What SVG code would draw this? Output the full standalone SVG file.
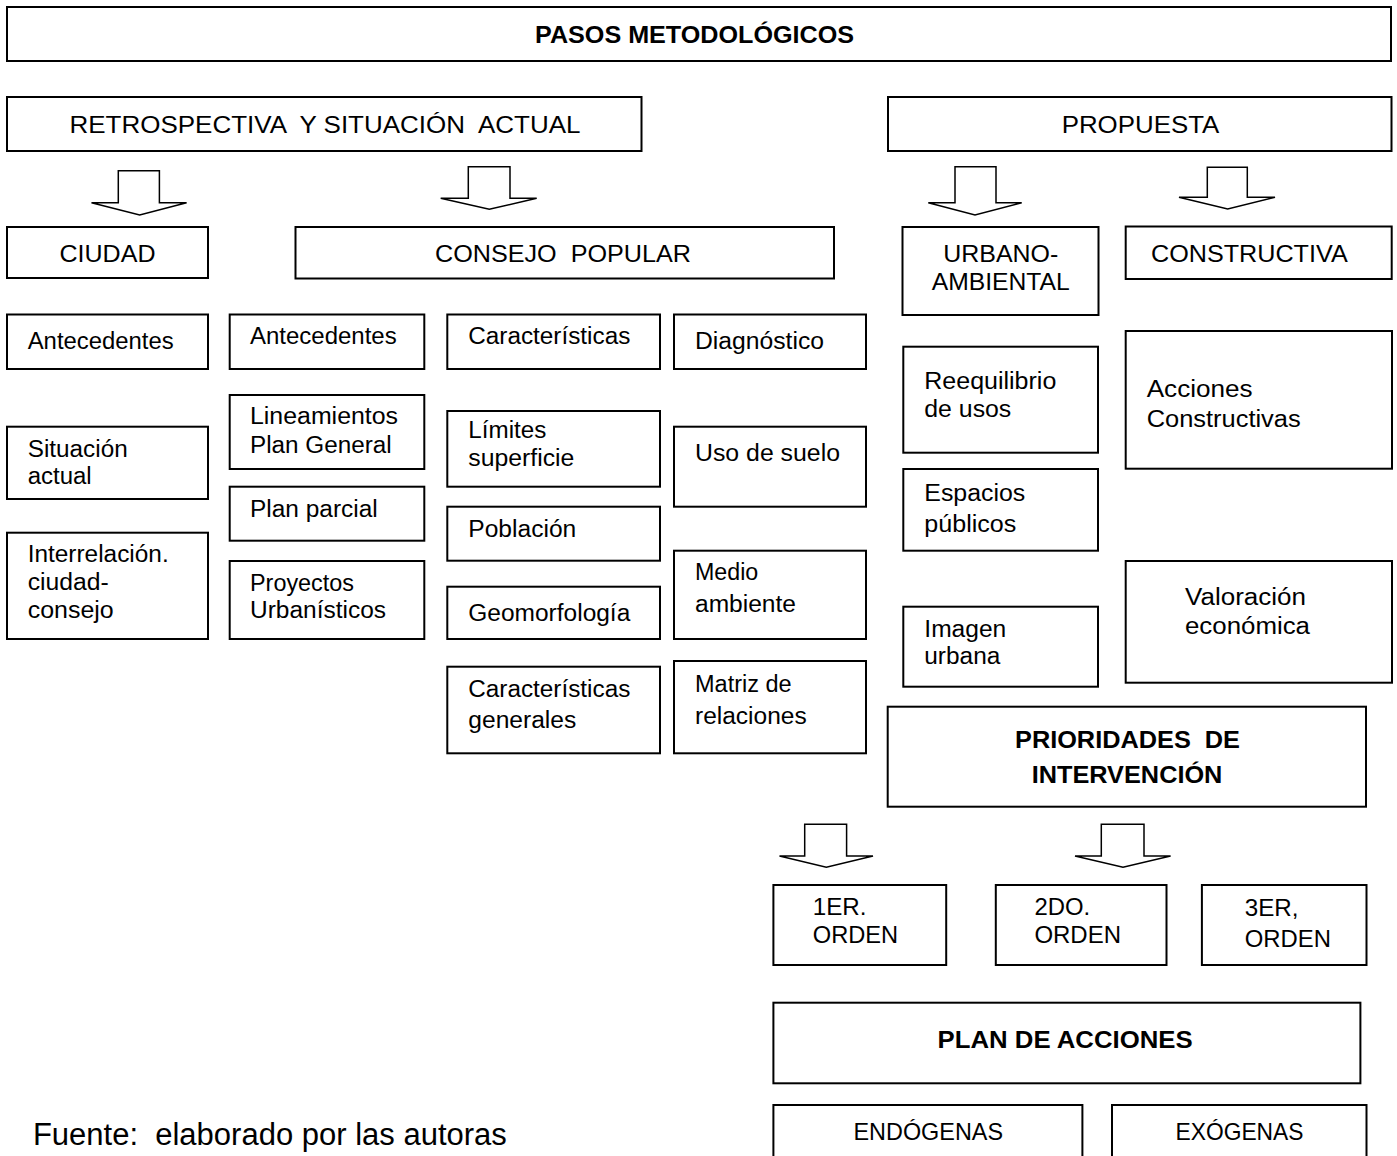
<svg xmlns="http://www.w3.org/2000/svg" width="1397" height="1156" viewBox="0 0 1397 1156">
<style>
.bx{fill:#fff;stroke:#000;stroke-width:2}
.t{font-family:"Liberation Sans",Arial,sans-serif;font-size:23px;fill:#000}
.u{font-size:24px}
.b{font-weight:bold;font-size:24px}
.ar{fill:#fff;stroke:#000;stroke-width:1.5;stroke-linejoin:miter}
</style>
<rect width="1397" height="1156" fill="#fff"/>
<g id="connectors">
<polygon class="ar" points="118.3,170.7 159.4,170.7 159.4,202.7 186.6,202.7 139.7,215 91.5,202.7 118.3,202.7"/>
<polygon class="ar" points="468.3,166.7 510,166.7 510,198.3 536.7,198.3 489.3,209.3 440.7,198.3 468.3,198.3"/>
<polygon class="ar" points="955,166.7 996,166.7 996,202.7 1021.7,202.7 975,215 928.3,202.7 955,202.7"/>
<polygon class="ar" points="1207.3,167.3 1247.3,167.3 1247.3,197.3 1275,197.3 1227.7,209 1179,197.3 1207.3,197.3"/>
<polygon class="ar" points="804.7,824.3 846.6,824.3 846.6,856 873,856 826.3,867.3 779.5,856 804.7,856"/>
<polygon class="ar" points="1101.3,824.3 1144,824.3 1144,856 1170.6,856 1123,867.3 1075,856 1101.3,856"/>
</g>
<g id="n-title"><rect class="bx" x="7" y="7" width="1384" height="54"/><text class="t b" x="535" y="43" textLength="319" lengthAdjust="spacingAndGlyphs">PASOS METODOLÓGICOS</text></g>
<g id="n-retro"><rect class="bx" x="7" y="97" width="634.5" height="54"/><text class="t u" x="69.5" y="132.5" textLength="511" lengthAdjust="spacingAndGlyphs" xml:space="preserve">RETROSPECTIVA  Y SITUACIÓN  ACTUAL</text></g>
<g id="n-propuesta"><rect class="bx" x="888" y="97" width="503.5" height="54"/><text class="t u" x="1061.7" y="132.7" textLength="157.6" lengthAdjust="spacingAndGlyphs">PROPUESTA</text></g>
<g id="n-ciudad"><rect class="bx" x="7" y="227" width="201" height="51"/><text class="t u" x="59.5" y="261.7" textLength="96" lengthAdjust="spacingAndGlyphs">CIUDAD</text></g>
<g id="n-consejo"><rect class="bx" x="295.5" y="227" width="538.5" height="51.5"/><text class="t u" x="435" y="261.7" textLength="256" lengthAdjust="spacingAndGlyphs" xml:space="preserve">CONSEJO  POPULAR</text></g>
<g id="n-urbano"><rect class="bx" x="902.5" y="227" width="196" height="88"/><text class="t u" x="943.3" y="261.7" textLength="115" lengthAdjust="spacingAndGlyphs">URBANO-</text><text class="t u" x="931.7" y="290" textLength="138" lengthAdjust="spacingAndGlyphs">AMBIENTAL</text></g>
<g id="n-constructiva"><rect class="bx" x="1125.7" y="226.5" width="266" height="52.5"/><text class="t u" x="1151" y="261.7" textLength="196.7" lengthAdjust="spacingAndGlyphs">CONSTRUCTIVA</text></g>

<g id="n-c1-antecedentes"><rect class="bx" x="7" y="314.5" width="201" height="54.5"/><text class="t" x="27.7" y="349" textLength="146" lengthAdjust="spacingAndGlyphs">Antecedentes</text></g>
<g id="n-c1-situacion"><rect class="bx" x="7" y="426.7" width="201" height="72.3"/><text class="t" x="27.7" y="456.7" textLength="100" lengthAdjust="spacingAndGlyphs">Situación</text><text class="t" x="27.7" y="484.3" textLength="64" lengthAdjust="spacingAndGlyphs">actual</text></g>
<g id="n-c1-interrelacion"><rect class="bx" x="7" y="532.7" width="201" height="106.3"/><text class="t" x="27.7" y="562.3" textLength="141" lengthAdjust="spacingAndGlyphs">Interrelación.</text><text class="t" x="27.7" y="590" textLength="81" lengthAdjust="spacingAndGlyphs">ciudad-</text><text class="t" x="27.7" y="618.3" textLength="86" lengthAdjust="spacingAndGlyphs">consejo</text></g>

<g id="n-c2-antecedentes"><rect class="bx" x="229.7" y="314.5" width="194.6" height="54.5"/><text class="t" x="250" y="344.3" textLength="146.7" lengthAdjust="spacingAndGlyphs">Antecedentes</text></g>
<g id="n-c2-lineamientos"><rect class="bx" x="229.7" y="395" width="194.6" height="74"/><text class="t" x="250" y="424.3" textLength="148" lengthAdjust="spacingAndGlyphs">Lineamientos</text><text class="t" x="250" y="452.7" textLength="141.7" lengthAdjust="spacingAndGlyphs">Plan General</text></g>
<g id="n-c2-planparcial"><rect class="bx" x="229.7" y="486.7" width="194.6" height="54"/><text class="t" x="250" y="516.7" textLength="127.7" lengthAdjust="spacingAndGlyphs">Plan parcial</text></g>
<g id="n-c2-proyectos"><rect class="bx" x="229.7" y="561" width="194.6" height="78"/><text class="t" x="250" y="590.7" textLength="104" lengthAdjust="spacingAndGlyphs">Proyectos</text><text class="t" x="250" y="618.3" textLength="136" lengthAdjust="spacingAndGlyphs">Urbanísticos</text></g>

<g id="n-c3-caracteristicas"><rect class="bx" x="447.3" y="314.5" width="212.7" height="54.5"/><text class="t" x="468.3" y="344.3" textLength="162" lengthAdjust="spacingAndGlyphs">Características</text></g>
<g id="n-c3-limites"><rect class="bx" x="447.3" y="411" width="212.7" height="75.7"/><text class="t" x="468.3" y="438.3" textLength="78" lengthAdjust="spacingAndGlyphs">Límites</text><text class="t" x="468.3" y="465.7" textLength="106" lengthAdjust="spacingAndGlyphs">superficie</text></g>
<g id="n-c3-poblacion"><rect class="bx" x="447.3" y="506.7" width="212.7" height="54"/><text class="t" x="468.3" y="536.7" textLength="108" lengthAdjust="spacingAndGlyphs">Población</text></g>
<g id="n-c3-geomorfologia"><rect class="bx" x="447.3" y="586.7" width="212.7" height="52.3"/><text class="t" x="468.3" y="620.7" textLength="162" lengthAdjust="spacingAndGlyphs">Geomorfología</text></g>
<g id="n-c3-generales"><rect class="bx" x="447.3" y="666.7" width="212.7" height="86.6"/><text class="t" x="468.3" y="696.7" textLength="162" lengthAdjust="spacingAndGlyphs">Características</text><text class="t" x="468.3" y="727.7" textLength="108" lengthAdjust="spacingAndGlyphs">generales</text></g>

<g id="n-c4-diagnostico"><rect class="bx" x="674" y="314.5" width="192" height="54.5"/><text class="t" x="695" y="349" textLength="129" lengthAdjust="spacingAndGlyphs">Diagnóstico</text></g>
<g id="n-c4-uso"><rect class="bx" x="674" y="426.7" width="192" height="80"/><text class="t" x="695" y="460.7" textLength="145" lengthAdjust="spacingAndGlyphs">Uso de suelo</text></g>
<g id="n-c4-medio"><rect class="bx" x="674" y="550.7" width="192" height="88.3"/><text class="t" x="695" y="580" textLength="63.3" lengthAdjust="spacingAndGlyphs">Medio</text><text class="t" x="695" y="612.3" textLength="101" lengthAdjust="spacingAndGlyphs">ambiente</text></g>
<g id="n-c4-matriz"><rect class="bx" x="674" y="661" width="192" height="92.3"/><text class="t" x="695" y="691.7" textLength="96.7" lengthAdjust="spacingAndGlyphs">Matriz de</text><text class="t" x="695" y="724" textLength="111.7" lengthAdjust="spacingAndGlyphs">relaciones</text></g>

<g id="n-reequilibrio"><rect class="bx" x="903.3" y="346.7" width="194.7" height="106"/><text class="t" x="924.3" y="389" textLength="132" lengthAdjust="spacingAndGlyphs">Reequilibrio</text><text class="t" x="924.3" y="416.7" textLength="87" lengthAdjust="spacingAndGlyphs">de usos</text></g>
<g id="n-espacios"><rect class="bx" x="903.3" y="469" width="194.7" height="81.7"/><text class="t" x="924.3" y="501" textLength="101" lengthAdjust="spacingAndGlyphs">Espacios</text><text class="t" x="924.3" y="532.3" textLength="92" lengthAdjust="spacingAndGlyphs">públicos</text></g>
<g id="n-imagen"><rect class="bx" x="903.3" y="606.7" width="194.7" height="80"/><text class="t" x="924.3" y="636.7" textLength="82" lengthAdjust="spacingAndGlyphs">Imagen</text><text class="t" x="924.3" y="664.3" textLength="76" lengthAdjust="spacingAndGlyphs">urbana</text></g>
<g id="n-acciones"><rect class="bx" x="1125.7" y="331" width="266.3" height="137.7"/><text class="t" x="1146.7" y="396.7" textLength="106" lengthAdjust="spacingAndGlyphs">Acciones</text><text class="t" x="1146.7" y="426.7" textLength="154" lengthAdjust="spacingAndGlyphs">Constructivas</text></g>
<g id="n-valoracion"><rect class="bx" x="1125.7" y="561" width="266.3" height="121.7"/><text class="t" x="1185" y="605" textLength="121" lengthAdjust="spacingAndGlyphs">Valoración</text><text class="t" x="1185" y="634" textLength="125" lengthAdjust="spacingAndGlyphs">económica</text></g>

<g id="n-prioridades"><rect class="bx" x="887.7" y="706.7" width="478.3" height="100"/><text class="t b" x="1015" y="748.3" textLength="225" lengthAdjust="spacingAndGlyphs" xml:space="preserve">PRIORIDADES  DE</text><text class="t b" x="1031.7" y="783.3" textLength="190.7" lengthAdjust="spacingAndGlyphs">INTERVENCIÓN</text></g>
<g id="n-orden1"><rect class="bx" x="773.4" y="885" width="172.8" height="80"/><text class="t u" x="812.8" y="915" textLength="53.7" lengthAdjust="spacingAndGlyphs">1ER.</text><text class="t u" x="812.8" y="942.7" textLength="85.4" lengthAdjust="spacingAndGlyphs">ORDEN</text></g>
<g id="n-orden2"><rect class="bx" x="995.8" y="885" width="170.7" height="80"/><text class="t u" x="1034.4" y="915" textLength="55.7" lengthAdjust="spacingAndGlyphs">2DO.</text><text class="t u" x="1034.4" y="942.7" textLength="86.6" lengthAdjust="spacingAndGlyphs">ORDEN</text></g>
<g id="n-orden3"><rect class="bx" x="1201.9" y="885" width="164.6" height="80"/><text class="t u" x="1244.8" y="916" textLength="53.7" lengthAdjust="spacingAndGlyphs">3ER,</text><text class="t u" x="1244.8" y="946.7" textLength="86.2" lengthAdjust="spacingAndGlyphs">ORDEN</text></g>
<g id="n-plan"><rect class="bx" x="773.4" y="1002.7" width="587" height="80.6"/><text class="t b" x="937.6" y="1048.3" textLength="255" lengthAdjust="spacingAndGlyphs">PLAN DE ACCIONES</text></g>
<g id="n-endogenas"><rect class="bx" x="773.4" y="1105" width="309" height="70"/><text class="t u" x="853.5" y="1140" textLength="149.5" lengthAdjust="spacingAndGlyphs">ENDÓGENAS</text></g>
<g id="n-exogenas"><rect class="bx" x="1112" y="1105" width="254.5" height="70"/><text class="t u" x="1175.5" y="1140" textLength="128" lengthAdjust="spacingAndGlyphs">EXÓGENAS</text></g>
<text class="t" x="32.9" y="1145" style="font-size:31px" xml:space="preserve">Fuente:  elaborado por las autoras</text>
</svg>
